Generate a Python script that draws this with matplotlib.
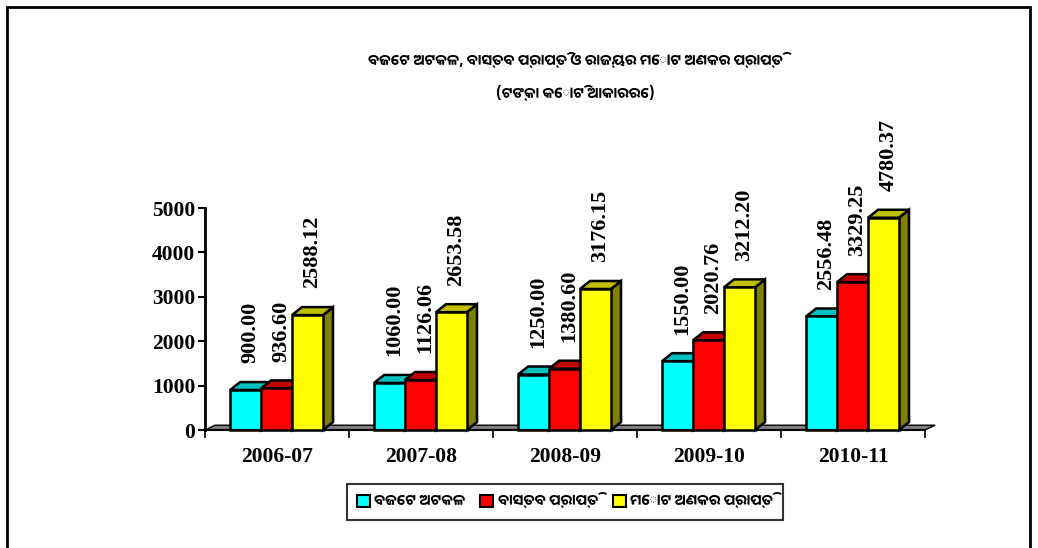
import matplotlib
matplotlib.use("Agg")
import matplotlib.pyplot as plt
from matplotlib.patches import Polygon, Rectangle, Patch

# data
years = ["2006-07", "2007-08", "2008-09", "2009-10", "2010-11"]
budget = [900.00, 1060.00, 1250.00, 1550.00, 2556.48]
actual = [936.60, 1126.06, 1380.60, 2020.76, 3329.25]
nontax = [2588.12, 2653.58, 3176.15, 3212.20, 4780.37]
series_names = ["ବଜେଟ ଅଟକଳ", "ବାସ୍ତବ ପ୍ରାପ୍ତି", "ମୋଟ ଅଣକର ପ୍ରାପ୍ତି"]
title1 = "ବଜେଟ ଅଟକଳ, ବାସ୍ତବ ପ୍ରାପ୍ତି ଓ ରାଜ୍ୟର ମୋଟ ଅଣକର ପ୍ରାପ୍ତି"
title2 = "(ଟଙ୍କା କୋଟି ଆକାରରେ)"

front = ["#00FFFF", "#FF0000", "#FFFF00"]
top = ["#00C0C0", "#C00000", "#C0C000"]
side = ["#008080", "#800000", "#808000"]

odia_family = ["Noto Sans Oriya UI", "Noto Sans Oriya", "DejaVu Sans"]
serif = "Liberation Serif"

fig = plt.figure(figsize=(10.38, 5.48), dpi=100)
fig.patches.append(Rectangle((7 / 1038, -0.01), 1023 / 1038, 1 - 7 / 548 + 0.01,
                             transform=fig.transFigure, fill=False,
                             edgecolor="black", linewidth=2))

ax = fig.add_axes([205 / 1038, 118 / 548, 5.1 * 144 / 1038, 222 / 548])
ax.set_xlim(0, 5.1)
ax.set_ylim(0, 5000)

dx, dy = 0.07, 180
w = 0.215
left0 = 0.174

# floor
ax.add_patch(Polygon([(0, 0), (5, 0), (5 + dx, dy * 0.6), (dx, dy * 0.6)],
                     closed=True, facecolor="#808080", edgecolor="black",
                     linewidth=1, clip_on=False, zorder=1))

for s, vals in enumerate([budget, actual, nontax]):
    for i, v in enumerate(vals):
        x0 = i + left0 + s * w
        x1 = x0 + w
        # side, top, front
        ax.add_patch(Polygon([(x1, 0), (x1 + dx, dy), (x1 + dx, v + dy), (x1, v)],
                             facecolor=side[s], edgecolor="black", linewidth=1.8,
                             clip_on=False, zorder=2 + s))
        ax.add_patch(Polygon([(x0, v), (x0 + dx, v + dy), (x1 + dx, v + dy), (x1, v)],
                             facecolor=top[s], edgecolor="black", linewidth=1.8,
                             clip_on=False, zorder=2 + s))
        ax.add_patch(Rectangle((x0, 0), w, v, facecolor=front[s], edgecolor="black",
                               linewidth=1.8, clip_on=False, zorder=2 + s))
        ax.text(x0 + w / 2 + dx / 2, v + dy + 420, f"{v:.2f}", rotation=90,
                ha="center", va="bottom", fontsize=16, fontweight="bold",
                family=serif, clip_on=False)

ax.spines["top"].set_visible(False)
ax.spines["right"].set_visible(False)
ax.spines["left"].set_linewidth(2)
ax.spines["bottom"].set_linewidth(1.5)
ax.spines["bottom"].set_bounds(0, 5)

ax.set_yticks([0, 1000, 2000, 3000, 4000, 5000])
ax.set_yticklabels(["0", "1000", "2000", "3000", "4000", "5000"],
                   fontsize=15.5, fontweight="bold", family=serif)
ax.tick_params(axis="y", length=5, width=1.5, pad=2)

ax.set_xticks([0, 1, 2, 3, 4, 5])
ax.set_xticklabels([])
ax.set_xticks([i + 0.5 for i in range(5)], minor=True)
ax.set_xticklabels(years, minor=True, fontsize=15.5, fontweight="bold", family=serif)
ax.tick_params(axis="x", which="major", length=6, width=1.2)
ax.tick_params(axis="x", which="minor", length=0, pad=12)

fig.text(575 / 1038, 1 - 62 / 548, title1, ha="center", va="center",
         fontsize=10.5, fontweight="bold", family=odia_family)
fig.text(575 / 1038, 1 - 95 / 548, title2, ha="center", va="center",
         fontsize=10.5, fontweight="bold", family=odia_family)

handles = [Patch(facecolor=c, edgecolor="black", linewidth=1.5) for c in front]
leg = fig.legend(handles, series_names, loc="center", ncol=3,
                 bbox_to_anchor=(565 / 1038, 1 - 502 / 548),
                 prop={"family": odia_family, "size": 10.5, "weight": "bold"},
                 frameon=True, fancybox=False, edgecolor="black",
                 handlelength=0.9, handleheight=0.9, handletextpad=0.3,
                 columnspacing=1.0, borderpad=0.7, borderaxespad=0.3)
leg.get_frame().set_linewidth(1.5)

fig.savefig("out.png", dpi=100)
